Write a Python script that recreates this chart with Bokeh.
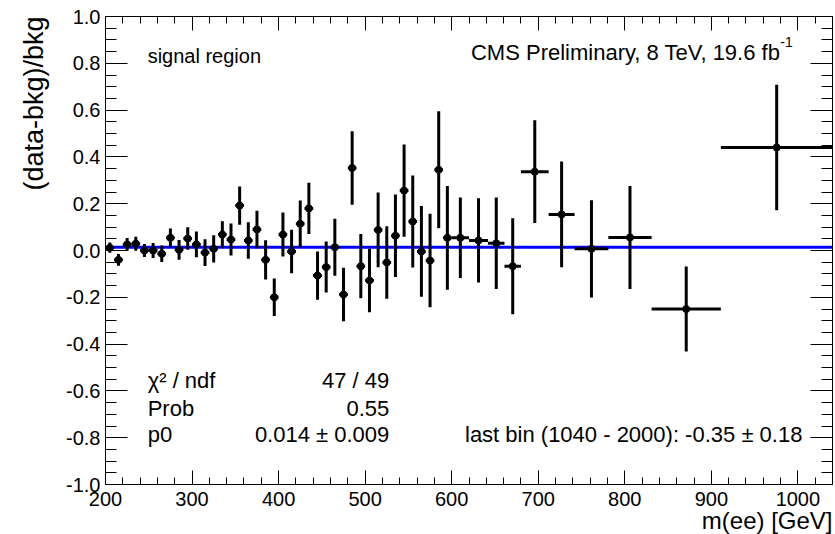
from bokeh.plotting import figure
from bokeh.models import (Label, LinearAxis, FixedTicker, NumeralTickFormatter, Range1d,
                          Title, CustomJSTickFormatter)
from bokeh.embed import file_html
from bokeh.resources import INLINE

# ---------------- data ----------------
bin_edges = [200, 210, 220, 230, 240, 250, 260, 270, 280, 290,
             300, 310, 320, 330, 340, 350, 360, 370, 380, 390,
             400, 410, 420, 430, 440, 450, 460, 470, 480, 490,
             500, 510, 520, 530, 540, 550, 560, 570, 580, 590,
             600, 620, 642, 661, 680, 712, 742, 781, 831, 911, 1040]

ratio = [0.012, -0.040, 0.026, 0.029, 0.000, 0.000, -0.014, 0.054, 0.003, 0.051,
         0.026, -0.009, 0.007, 0.068, 0.047, 0.192, 0.043, 0.090, -0.040, -0.200,
         0.068, -0.004, 0.114, 0.180, -0.107, -0.071, 0.014, -0.188, 0.353, -0.067,
         -0.128, 0.088, -0.051, 0.063, 0.256, 0.124, -0.004, -0.043, 0.345, 0.054,
         0.054, 0.043, 0.031, -0.067, 0.337, 0.154, 0.007, 0.056, -0.250, 0.440]

ratio_err = [0.022, 0.025, 0.027, 0.030, 0.028, 0.032, 0.035, 0.040, 0.042, 0.048,
             0.055, 0.057, 0.058, 0.057, 0.068, 0.082, 0.078, 0.080, 0.084, 0.080,
             0.094, 0.093, 0.100, 0.110, 0.103, 0.109, 0.122, 0.114, 0.157, 0.137,
             0.136, 0.160, 0.155, 0.176, 0.197, 0.197, 0.194, 0.200, 0.250, 0.222,
             0.172, 0.180, 0.196, 0.205, 0.220, 0.226, 0.208, 0.220, 0.182, 0.268]

fit_p0 = 0.014

x_major_ticks = [200, 300, 400, 500, 600, 700, 800, 900, 1000]
y_major_ticks = [-1.0, -0.8, -0.6, -0.4, -0.2, 0.0, 0.2, 0.4, 0.6, 0.8, 1.0]

# ---------------- derived ----------------
lo = bin_edges[:-1]
hi = bin_edges[1:]
centers = [(a + b) / 2 for a, b in zip(lo, hi)]
y_lo = [v - e for v, e in zip(ratio, ratio_err)]
y_hi = [v + e for v, e in zip(ratio, ratio_err)]

x_minor = [x_major_ticks[0] + 20 * i for i in range(int((1040 - 200) / 20) + 1)]
y_minor = [round(-1.0 + 0.05 * i, 4) for i in range(41)]

FONT = "Liberation Sans"

p = figure(width=835, height=534,
           x_range=Range1d(bin_edges[0], bin_edges[-1]),
           y_range=Range1d(-1.0, 1.0),
           output_backend="svg", toolbar_location=None,
           min_border_left=105, min_border_right=3,
           min_border_top=16, min_border_bottom=50)

p.background_fill_color = "white"
p.border_fill_color = "white"
p.outline_line_color = "black"
p.outline_line_width = 1
p.xgrid.visible = False
p.ygrid.visible = False

xt = FixedTicker(ticks=x_major_ticks, minor_ticks=x_minor)
yt = FixedTicker(ticks=y_major_ticks, minor_ticks=y_minor)


def style_axis(ax, ticker, major_len, minor_len, labels=True):
    ax.ticker = ticker
    ax.axis_line_color = "black"
    ax.axis_line_width = 1
    ax.major_tick_in = major_len
    ax.major_tick_out = 0
    ax.minor_tick_in = minor_len
    ax.minor_tick_out = 0
    ax.major_tick_line_color = "black"
    ax.minor_tick_line_color = "black"
    ax.major_tick_line_width = 1
    ax.minor_tick_line_width = 1
    if labels:
        ax.major_label_text_font = FONT
        ax.major_label_text_font_size = "20px"
        ax.major_label_text_color = "black"
    else:
        ax.formatter = CustomJSTickFormatter(code="return ''")
        ax.major_label_text_font_size = "1px"
        ax.major_label_standoff = 0


style_axis(p.xaxis[0], xt, 14, 7)
p.xaxis[0].major_label_standoff = 7
style_axis(p.yaxis[0], yt, 22, 11)
p.yaxis[0].major_label_standoff = 5
p.yaxis[0].formatter = NumeralTickFormatter(format="0.0")

top_ax = LinearAxis()
style_axis(top_ax, xt, 14, 7, labels=False)
p.add_layout(top_ax, "above")
right_ax = LinearAxis()
style_axis(right_ax, yt, 22, 11, labels=False)
p.add_layout(right_ax, "right")

# axis titles, ROOT style (aligned to the axis end)
p.add_layout(Title(text="m(ee) [GeV]", align="right", text_font=FONT,
                   text_font_size="24px", text_font_style="normal",
                   text_color="black", standoff=-8), "below")
p.add_layout(Title(text="(data-bkg)/bkg", align="right", text_font=FONT,
                   text_font_size="27px", text_font_style="normal",
                   text_color="black", standoff=30), "left")

# ---------------- glyphs ----------------
p.line([bin_edges[0], bin_edges[-1]], [fit_p0, fit_p0], line_color="#0000ff", line_width=3)
p.segment(x0=centers, y0=y_lo, x1=centers, y1=y_hi, line_color="black", line_width=3)
p.segment(x0=lo, y0=ratio, x1=hi, y1=ratio, line_color="black", line_width=3)
p.scatter(x=centers, y=ratio, marker="circle", size=7, fill_color="black", line_color="black")

# ---------------- texts ----------------
def add_text(x, y, text, size="22px", align="left"):
    p.add_layout(Label(x=x, y=y, text=text, text_font=FONT, text_font_size=size,
                       text_align=align, text_baseline="middle", text_color="black"))


add_text(248.7, 0.833, "signal region", size="20px")
add_text(979.7, 0.847, "CMS Preliminary, 8 TeV, 19.6 fb", align="right")
add_text(979.7, 0.890, "-1", size="14px")

add_text(248.7, -0.556, "\u03c7\u00b2 / ndf")
add_text(527.9, -0.556, "47 / 49", align="right")
add_text(248.7, -0.677, "Prob")
add_text(527.9, -0.677, "0.55", align="right")
add_text(248.7, -0.788, "p0")
add_text(527.9, -0.788, "0.014 \u00b1 0.009", align="right")
add_text(1005.2, -0.788, "last bin (1040 - 2000): -0.35 \u00b1 0.18", align="right")

open("out.html", "w").write(file_html(p, INLINE))
